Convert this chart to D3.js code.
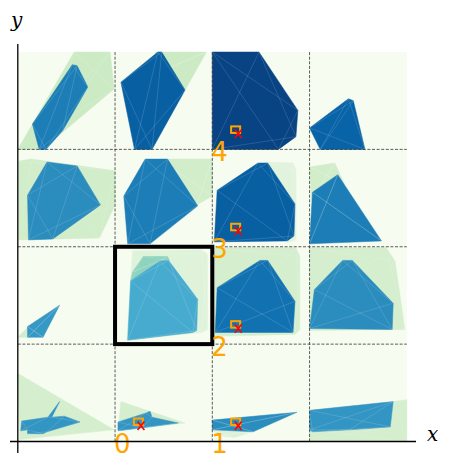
<!DOCTYPE html>
<html>
<head>
<meta charset="utf-8">
<script src="https://cdn.jsdelivr.net/npm/d3@7"></script>
<style>
  body { margin: 0; background: #fff; }
  svg { display: block; }
</style>
</head>
<body>
<div id="chart"></div>
<script>
// grid size (cells along each axis)
const gridN = 4;

// pale outer hulls, one per cell (data coords)
const lightShapes = [
  [[0,3.0],[0.58,4.0],[0.95,4.0],[0.99,3.62],[0.25,3.0]],
  [[1.41,4.0],[1.94,4.0],[1.72,3.61],[1.51,3.82]],
  [[0.01,2.88],[0.14,2.90],[1.0,2.78],[1.0,2.43],[0.84,2.09],[0.01,2.07]],
  [[1.46,2.90],[2.0,2.90],[2.0,2.52],[1.84,2.43]],
  [[2.54,2.87],[2.83,2.86],[2.86,2.79],[2.86,2.07],[2.77,2.04]],
  [[3.0,2.82],[3.26,2.86],[3.36,2.64],[3.02,2.48]],
  [[0,1.07],[0.12,1.19],[0.13,1.07]],
  [[1.18,1.96],[1.89,1.97],[1.95,1.92],[1.95,1.15],[1.89,1.12],[1.12,1.04]],
  [[2.0,1.99],[2.86,1.99],[2.90,1.90],[2.90,1.15],[2.85,1.10],[2.0,1.08]],
  [[3.0,1.99],[3.79,1.99],[3.88,1.85],[3.98,1.15],[3.0,1.14]],
  [[0,0.70],[0.99,0.12],[0.02,0.02]],
  [[1.06,0.41],[1.72,0.19],[1.03,0.11]],
  [[2.0,0.12],[2.44,0.11],[2.23,0.04],[2.08,0.06]],
  [[3.0,0.12],[3.83,0.15],[3.86,0.41],[4.0,0.43],[4.0,0.0],[3.0,0.0]]
];
const lightValues = [0.25, 0.25, 0.22, 0.22, 0.12, 0.22, 0.22, 0.13, 0.2, 0.2, 0.2, 0.2, 0.15, 0.2];

// middle layer (only the highlighted cell has one)
const midShapes = [
  [[1.29,1.90],[1.54,1.90],[1.56,1.86],[1.46,1.85],[1.16,1.65],[1.18,1.74]]
];
const midValues = [0.45];

// dense inner hulls, one per cell
const darkShapes = [
  [[0.56,3.87],[0.61,3.86],[0.72,3.64],[0.46,3.19],[0.29,3.0],[0.22,3.0],[0.15,3.26]],
  [[1.44,4.0],[1.48,4.0],[1.72,3.61],[1.38,3.0],[1.20,3.0],[1.06,3.69]],
  [[2.0,4.0],[2.48,4.0],[2.88,3.40],[2.86,3.13],[2.68,3.0],[2.0,3.0]],
  [[3.40,3.52],[3.45,3.50],[3.57,3.0],[3.11,3.0],[3.0,3.22]],
  [[0.30,2.87],[0.61,2.83],[0.85,2.43],[0.36,2.08],[0.11,2.07],[0.10,2.53]],
  [[1.31,2.90],[1.54,2.90],[1.85,2.42],[1.36,2.03],[1.13,2.03],[1.09,2.52]],
  [[2.47,2.86],[2.57,2.86],[2.85,2.44],[2.84,2.11],[2.77,2.06],[2.02,2.05],[2.05,2.58]],
  [[3.29,2.74],[3.74,2.06],[3.0,2.03],[3.03,2.56]],
  [[0.43,1.40],[0.26,1.07],[0.10,1.07],[0.10,1.18]],
  [[1.46,1.85],[1.55,1.86],[1.85,1.46],[1.84,1.14],[1.80,1.12],[1.13,1.04],[1.16,1.65]],
  [[2.49,1.86],[2.57,1.86],[2.85,1.44],[2.83,1.12],[2.03,1.12],[2.05,1.58]],
  [[3.34,1.86],[3.44,1.86],[3.86,1.42],[3.85,1.15],[3.0,1.16],[3.05,1.56]],
  [[0.04,0.21],[0.31,0.25],[0.43,0.41],[0.35,0.25],[0.48,0.26],[0.64,0.20],[0.30,0.10],[0.26,0.08],[0.10,0.08],[0.10,0.12],[0.03,0.11]],
  [[1.03,0.20],[1.31,0.29],[1.36,0.31],[1.38,0.25],[1.65,0.19],[1.28,0.14],[1.03,0.11]],
  [[2.0,0.22],[2.87,0.30],[2.42,0.10],[2.0,0.12]],
  [[3.0,0.32],[3.86,0.41],[3.83,0.15],[3.41,0.12],[3.03,0.10],[3.0,0.12]]
];
const darkValues = [0.80, 0.90, 0.99, 0.89, 0.75, 0.80, 0.90, 0.80, 0.71, 0.65, 0.84, 0.75, 0.72, 0.72, 0.75, 0.72];

// marked cells (lower-left corner) and their labels
const markerCells = [[1,0],[2,0],[2,1],[2,2],[2,3]];
const markerLabels = ["0","1","2","3","4"];
const markerOffset = [0.24, 0.2];

const highlightCell = [1,1];

const W = 449, H = 469;

const svg = d3.select("#chart").append("svg")
  .attr("width", W)
  .attr("height", H);

const x = d3.scaleLinear().domain([0, gridN]).range([17.8, 406.8]);
const y = d3.scaleLinear().domain([0, gridN]).range([441.5, 52]);

// GnBu colour map
const gnbu = d3.scaleLinear()
  .domain(d3.range(9).map(i => i / 8))
  .range(["#f7fcf0","#e0f3db","#ccebc5","#a8ddb5","#7bccc4","#4eb3d3","#2b8cbe","#0868ac","#084081"]);

const line = d3.line().x(d => x(d[0])).y(d => y(d[1]));
const poly = pts => line(pts) + "Z";

// background of all cells
svg.append("rect")
  .attr("x", x(0)).attr("y", y(gridN))
  .attr("width", x(gridN) - x(0))
  .attr("height", y(0) - y(gridN))
  .attr("fill", gnbu(0));

function drawLayer(shapes, values, name) {
  const g = svg.append("g").attr("class", name);
  shapes.forEach((pts, i) => {
    const id = name + i;
    svg.append("clipPath").attr("id", id)
      .append("path").attr("d", poly(pts));
    g.append("path")
      .attr("d", poly(pts))
      .attr("fill", gnbu(values[i]))
      .attr("stroke", gnbu(values[i]))
      .attr("stroke-width", 0.5);
    // faint mesh lines between the vertices
    const n = pts.length;
    const mesh = pts.map((p, a) => [p, pts[(a + 2) % n]]);
    g.append("g").attr("clip-path", `url(#${id})`)
      .selectAll("path").data(mesh).join("path")
      .attr("d", line)
      .attr("fill", "none")
      .attr("stroke", "#fff")
      .attr("stroke-opacity", 0.2)
      .attr("stroke-width", 0.7);
  });
}

drawLayer(lightShapes, lightValues, "light");
drawLayer(midShapes, midValues, "mid");
drawLayer(darkShapes, darkValues, "dark");

// dashed cell borders
const inner = d3.range(1, gridN);
svg.append("g").selectAll("line").data(inner).join("line")
  .attr("x1", d => x(d)).attr("x2", d => x(d))
  .attr("y1", y(0)).attr("y2", y(gridN))
  .attr("stroke", "#333").attr("stroke-width", 0.8)
  .attr("stroke-dasharray", "3,1.6");
svg.append("g").selectAll("line").data(inner).join("line")
  .attr("y1", d => y(d)).attr("y2", d => y(d))
  .attr("x1", x(0)).attr("x2", x(gridN))
  .attr("stroke", "#333").attr("stroke-width", 0.8)
  .attr("stroke-dasharray", "3,1.6");

// highlighted cell
svg.append("rect")
  .attr("x", x(highlightCell[0]))
  .attr("y", y(highlightCell[1] + 1))
  .attr("width", x(highlightCell[0] + 1) - x(highlightCell[0]))
  .attr("height", y(highlightCell[1]) - y(highlightCell[1] + 1))
  .attr("fill", "none")
  .attr("stroke", "#000")
  .attr("stroke-width", 4);

// markers
const mk = svg.append("g").selectAll("g").data(markerCells).join("g")
  .attr("transform", d => `translate(${x(d[0] + markerOffset[0])},${y(d[1] + markerOffset[1])})`);
mk.append("rect")
  .attr("x", -4.5).attr("y", -3.5).attr("width", 9).attr("height", 6.5)
  .attr("fill", "none").attr("stroke", "orange").attr("stroke-width", 2);
mk.append("path")
  .attr("d", "M-0.8,-0.5L6,8M6,-0.5L-0.8,8")
  .attr("stroke", "red").attr("stroke-width", 1.6);

// labels at cell corners
svg.append("g").selectAll("text").data(markerCells).join("text")
  .attr("x", d => x(d[0]) - 1)
  .attr("y", d => y(d[1]) + 11.5)
  .attr("fill", "orange")
  .attr("font-family", "DejaVu Sans")
  .attr("font-size", 26)
  .text((d, i) => markerLabels[i]);

// axes
svg.append("line")
  .attr("x1", x(0)).attr("x2", x(0))
  .attr("y1", 44).attr("y2", 453)
  .attr("stroke", "#000").attr("stroke-width", 1.3);
svg.append("line")
  .attr("x1", 10).attr("x2", 416)
  .attr("y1", y(0)).attr("y2", y(0))
  .attr("stroke", "#000").attr("stroke-width", 1.3);

svg.append("text")
  .attr("x", 427).attr("y", 441)
  .attr("font-family", "DejaVu Serif")
  .attr("font-style", "italic")
  .attr("font-size", 20)
  .text("x");
svg.append("text")
  .attr("x", 11).attr("y", 27)
  .attr("font-family", "DejaVu Serif")
  .attr("font-style", "italic")
  .attr("font-size", 20)
  .text("y");
</script>
</body>
</html>
